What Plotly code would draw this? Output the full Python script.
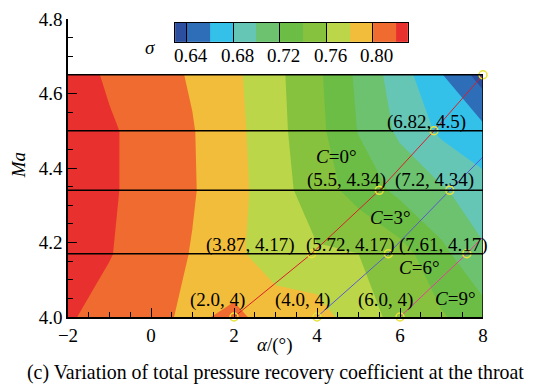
import plotly.graph_objects as go

# ---- data ----
alpha = [-2, -1, 0, 1, 2, 3, 4, 5, 6, 7, 8]
ma = [4.0, 4.17, 4.34, 4.5, 4.65]
sigma = [
    [0.822, 0.813, 0.805, 0.796, 0.805, 0.790, 0.790, 0.767, 0.755, 0.742, 0.728],
    [0.8325, 0.821, 0.810, 0.799, 0.784, 0.770, 0.762, 0.760, 0.748, 0.725, 0.703],
    [0.833, 0.8225, 0.812, 0.8015, 0.787, 0.768, 0.750, 0.732, 0.715, 0.7025, 0.688],
    [0.833, 0.8225, 0.812, 0.801, 0.786, 0.766, 0.746, 0.719, 0.696, 0.676, 0.665],
    [0.830, 0.817, 0.808, 0.798, 0.784, 0.765, 0.744, 0.716, 0.689, 0.661, 0.631],
]
ma_lines = [4.17, 4.34, 4.5, 4.65]

c0_x = [2.0, 3.87, 5.5, 6.82, 8.0]
c0_y = [4.0, 4.17, 4.34, 4.5, 4.65]
c3_x = [4.0, 5.72, 7.2, 8.0]
c3_y = [4.0, 4.17, 4.34, 4.43]
c6_x = [6.0, 7.61, 8.0]
c6_y = [4.0, 4.17, 4.215]
pt_x = [2.0, 3.87, 5.5, 6.82, 8.0, 4.0, 5.72, 7.2, 6.0, 7.61]
pt_y = [4.0, 4.17, 4.34, 4.5, 4.65, 4.0, 4.17, 4.34, 4.0, 4.17]

labels = [
    ("(6.82, 4.5)", 6.65, 4.523), ("<i>C</i>=0°", 4.48, 4.43),
    ("(5.5, 4.34)", 4.70, 4.368), ("(7.2, 4.34)", 6.84, 4.368),
    ("<i>C</i>=3°", 5.76, 4.266), ("(3.87, 4.17)", 2.39, 4.193),
    ("(5.72, 4.17)", 4.80, 4.193), ("(7.61, 4.17)", 7.06, 4.193),
    ("<i>C</i>=6°", 6.46, 4.132), ("(2.0, 4)", 1.61, 4.046),
    ("(4.0, 4)", 3.64, 4.046), ("(6.0, 4)", 5.66, 4.046),
    ("<i>C</i>=9°", 7.33, 4.051),
]

# colour levels (legend bar): band edges and tick labels
level_edges = [0.63, 0.64, 0.66, 0.68, 0.70, 0.72, 0.74, 0.76, 0.78, 0.80, 0.82, 0.83]
cb_ticks = [0.64, 0.68, 0.72, 0.76, 0.80]

level_colors = ['#2b4f9e', '#2e6db8', '#33c1e9', '#66c6b6', '#6cc26f', '#6cbd45',
                '#87c23f', '#bcd64a', '#f2bd3b', '#ef6b2f', '#e8302e']
n = len(level_colors)
colorscale = []
for j, c in enumerate(level_colors):
    lo = max(0.0, (j - 0.5) / (n - 1))
    hi = min(1.0, (j + 0.5) / (n - 1))
    colorscale += [[lo, c], [hi, c]]

FONT = "Liberation Serif"

fig = go.Figure()
fig.add_trace(go.Contour(
    x=alpha, y=ma, z=sigma, colorscale=colorscale, showscale=False,
    contours=dict(start=0.64, end=0.82, size=0.02, coloring='fill', showlines=False),
    line=dict(width=0, smoothing=0),
    hoverinfo='skip',
))

# colour bar drawn as a one-row heatmap on its own small axes
fig.add_trace(go.Heatmap(
    x=level_edges, y=[0], z=[list(range(n))], colorscale=colorscale,
    zmin=-0.5, zmax=n - 0.5, showscale=False, xaxis='x2', yaxis='y2', hoverinfo='skip',
))

fig.add_trace(go.Scatter(x=c0_x, y=c0_y, mode='lines', line=dict(color='#d8202a', width=1), showlegend=False))
fig.add_trace(go.Scatter(x=c3_x, y=c3_y, mode='lines', line=dict(color='#5a5ad0', width=1), showlegend=False))
fig.add_trace(go.Scatter(x=c6_x, y=c6_y, mode='lines', line=dict(color='#e0409a', width=1), showlegend=False))
fig.add_trace(go.Scatter(x=pt_x, y=pt_y, mode='markers', cliponaxis=False,
                         marker=dict(symbol='circle-open', size=8, color='#e8e23a', line=dict(width=1.5)),
                         showlegend=False))

shapes = []
for m in ma_lines:
    shapes.append(dict(type='line', xref='x', yref='y', x0=-2.05, x1=8, y0=m, y1=m,
                       line=dict(color='black', width=1.5)))
shapes.append(dict(type='line', xref='x', yref='y', x0=8, x1=8, y0=4.0, y1=4.65,
                   line=dict(color='black', width=1.5)))

ann = []
for t, x, y in labels:
    ann.append(dict(text=t, x=x, y=y, xref='x', yref='y', showarrow=False,
                    xanchor='center', yanchor='middle',
                    font=dict(family=FONT, size=19, color='black')))
for v in cb_ticks:
    ann.append(dict(text=f"{v:.2f}", x=v, y=0.879, xref='x2', yref='paper', showarrow=False,
                    xanchor='center', yanchor='middle', xshift=4,
                    font=dict(family=FONT, size=19, color='black')))
paper_text = [
    ("<i>σ</i>", 0.198, 0.906, 0, 19),
    ("<i>Ma</i>", -0.12, 0.51, -90, 19),
    ("<i>α</i>/(°)", 0.499, -0.094, 0, 19),
    ("(c) Variation of total pressure recovery coefficient at the throat", 0.5, -0.185, 0, 19.9),
]
for t, x, y, ang, fs in paper_text:
    ann.append(dict(text=t, x=x, y=y, xref='paper', yref='paper', showarrow=False,
                    xanchor='center', yanchor='middle', textangle=ang,
                    font=dict(family=FONT, size=fs, color='black')))

fig.update_layout(
    width=527, height=382,
    margin=dict(l=60, r=52, t=11, b=73, autoexpand=False),
    plot_bgcolor='white', paper_bgcolor='white',
    shapes=shapes, annotations=ann, showlegend=False,
    xaxis=dict(domain=[0, 1], range=[-2, 8], tickvals=[-2, 0, 2, 4, 6, 8],
               ticktext=['−2', '0', '2', '4', '6', '8'], automargin=False,
               ticks='inside', ticklen=9, tickwidth=1.2, tickcolor='black',
               minor=dict(dtick=0.5, tick0=0, ticks='inside', ticklen=5, tickcolor='black'),
               showline=True, linecolor='black', linewidth=1.5, showgrid=False, zeroline=False,
               tickfont=dict(family=FONT, size=19, color='black')),
    yaxis=dict(domain=[0, 1], range=[4.0, 4.8], tickvals=[4.0, 4.2, 4.4, 4.6, 4.8],
               ticktext=['4.0', '4.2', '4.4', '4.6', '4.8'], automargin=False,
               ticks='inside', ticklen=9, tickwidth=1.2, tickcolor='black',
               minor=dict(dtick=0.05, tick0=4.0, ticks='inside', ticklen=5, tickcolor='black'),
               showline=True, linecolor='black', linewidth=1.5, showgrid=False, zeroline=False,
               tickfont=dict(family=FONT, size=19, color='black')),
    xaxis2=dict(domain=[0.258, 0.819], anchor='y2', range=[0.63, 0.83], automargin=False,
                tickvals=cb_ticks, showticklabels=False,
                ticks='inside', ticklen=19, tickwidth=1, tickcolor='black',
                showline=True, mirror=True, linecolor='black', linewidth=1,
                showgrid=False, zeroline=False),
    yaxis2=dict(domain=[0.923, 0.987], anchor='x2', range=[-0.5, 0.5], automargin=False,
                showticklabels=False, ticks='', showline=True, mirror=True,
                linecolor='black', linewidth=1, showgrid=False, zeroline=False),
)
fig.write_html("out.html")
